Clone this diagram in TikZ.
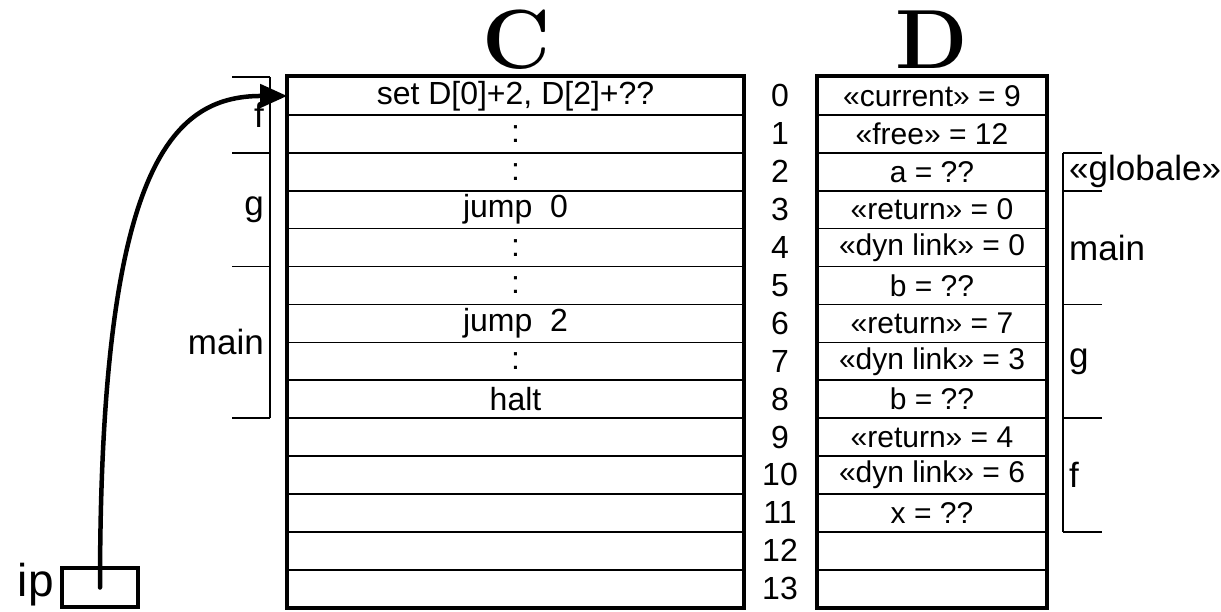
\documentclass[tikz,border=0pt]{standalone}
\usepackage{fontspec}
\newfontfamily\lsans{Liberation Sans}
\usetikzlibrary{arrows.meta}
\begin{document}
\begin{tikzpicture}[x=1pt,y=-1pt,
  cell/.style={draw, line width=1.6pt, minimum height=37.9pt, inner sep=0pt, font=\lsans\fontsize{32}{32}\selectfont},
  ccell/.style={cell, minimum width=455pt},
  dcell/.style={cell, minimum width=228pt, font=\lsans\fontsize{30}{30}\selectfont},
  idx/.style={font=\lsans\fontsize{32}{32}\selectfont, inner sep=0pt},
  frame/.style={line width=4pt},
  brk/.style={line width=1.8pt},
  lbl/.style={font=\lsans\fontsize{35}{35}\selectfont, inner sep=1pt},
  title/.style={font=\fontsize{84}{84}\selectfont\bfseries, inner sep=0pt},
  ipbox/.style={draw, line width=4pt, minimum width=76pt, minimum height=39pt, inner sep=0pt},
  ptr/.style={line width=4.5pt, line cap=round, -{Triangle[length=27pt,width=23pt]}}
]
\useasboundingbox (0,0) rectangle (1221,611);

% titles
\node[title] (ttlC) at (517,40) {C};
\node[title] (ttlD) at (932,40) {D};

% C column
\foreach \t [count=\i from 0] in {{set D[0]+2, D[2]+??},:,:,jump~~0,:,:,jump~~2,:,halt,,,,,}
  \node[ccell] (c\i) at (515.5,{77+37.9*(\i+0.5)}) {\t};

% D column
\foreach \t [count=\i from 0] in {«current» = 9,«free» = 12,a = ??,«return» = 0,«dyn link» = 0,b = ??,«return» = 7,«dyn link» = 3,b = ??,«return» = 4,«dyn link» = 6,x = ??,,}
  \node[dcell] (d\i) at (932,{77+37.9*(\i+0.5)}) {\t};

% indices
\foreach \i in {0,...,13}
  \node[idx] (n\i) at (780,{77+37.9*(\i+0.5)}) {\i};

% frames
\draw[frame] (c0.north west) rectangle (c13.south east);
\draw[frame] (d0.north west) rectangle (d13.south east);

% left brackets
\draw[brk] (270,77) -- (270,{77+37.9*9});
\foreach \k in {0,2,5,9}
  \draw[brk] (232,{77+37.9*\k}) -- (270,{77+37.9*\k});
\node[lbl, anchor=east] (lf) at (265,{77+37.9*1}) {f};
\node[lbl, anchor=east] (lg) at (265,{77+37.9*3.5}) {g};
\node[lbl, anchor=east] (lmain) at (265,{77+37.9*7}) {main};

% right brackets
\draw[brk] (1063,{77+37.9*2}) -- (1063,{77+37.9*12});
\foreach \k in {2,3,6,9,12}
  \draw[brk] (1063,{77+37.9*\k}) -- (1102,{77+37.9*\k});
\node[lbl, anchor=west] (rglob) at (1068,{77+37.9*2.5}) {«globale»};
\node[lbl, anchor=west] (rmain) at (1068,{77+37.9*4.5}) {main};
\node[lbl, anchor=west] (rg) at (1068,{77+37.9*7.5}) {g};
\node[lbl, anchor=west] (rf) at (1068,{77+37.9*10.5}) {f};

% ip register
\node[ipbox] (ip) at (100,587.5) {};
\node[font=\lsans\fontsize{46}{46}\selectfont, inner sep=0pt, anchor=base east] (iplbl) at (54,596) {ip};

% pointer
\draw[ptr] (ip.center) .. controls (100,170) and (170,96) .. (c0.west);
\end{tikzpicture}
\end{document}
